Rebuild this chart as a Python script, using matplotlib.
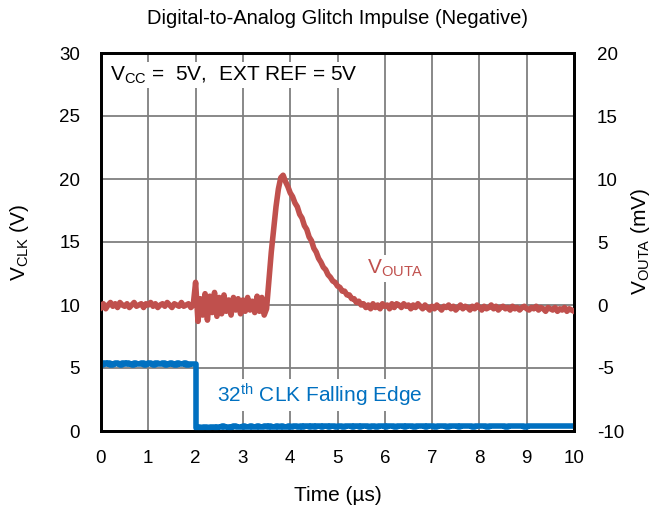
import numpy as np
import matplotlib
matplotlib.use("Agg")
import matplotlib.pyplot as plt

plt.rcParams['font.family'] = ['Liberation Sans', 'DejaVu Sans']
plt.rcParams['mathtext.fontset'] = 'custom'
plt.rcParams['mathtext.rm'] = 'Liberation Sans'
plt.rcParams['mathtext.it'] = 'Liberation Sans:italic'
plt.rcParams['axes.unicode_minus'] = False

title = "Digital-to-Analog Glitch Impulse (Negative)"
x_ticks = [0, 1, 2, 3, 4, 5, 6, 7, 8, 9, 10]
left_ticks = [0, 5, 10, 15, 20, 25, 30]
right_ticks = [-10, -5, 0, 5, 10, 15, 20]

# sample times (us), 0.05 us spacing
time_us = [round(i * 0.05, 2) for i in range(201)]

# V_OUTA in mV
vouta_mv = [
    # 0.00 - 1.95
    -0.2, 0.1, -0.3, 0.0, 0.2, -0.1, 0.1, -0.2, 0.2, 0.0,
    -0.1, 0.1, -0.2, 0.0, 0.2, -0.1, 0.0, 0.1, -0.2, 0.1,
    0.0, 0.2, -0.1, 0.1, -0.2, 0.0, 0.1, -0.1, 0.2, 0.0,
    -0.2, 0.1, 0.0, -0.1, 0.2, -0.1, 0.0, 0.1, -0.2, 0.0,
    # 2.00 - 3.50
    1.8, -1.3, 0.5, -0.8, 0.9, -1.2, 0.7, -0.6, 1.0, -0.9,
    0.6, -0.7, 0.8, -0.5, 0.4, -0.8, 0.6, -0.4, 0.5, -0.7,
    0.4, -0.5, 0.6, -0.4, 0.3, -0.6, 0.7, -0.5, 0.6, -0.8,
    -0.3,
    # 3.55 - 5.65
    2.0, 4.2, 6.0, 7.8, 9.2, 10.1, 10.3, 9.8, 9.4, 8.9,
    8.6, 8.1, 7.8, 7.2, 6.9, 6.3, 6.0, 5.4, 5.1, 4.5,
    4.2, 3.7, 3.4, 3.0, 2.8, 2.4, 2.2, 1.9, 1.8, 1.5,
    1.4, 1.1, 1.1, 0.8, 0.8, 0.5, 0.5, 0.2, 0.3, 0.0,
    0.1, -0.2, 0.0,
    # 5.70 - 10.00
    -0.3, 0.1, -0.2, 0.0, -0.3, 0.1, -0.1, 0.0, -0.3, 0.1,
    -0.2, 0.1, 0.0, -0.2, 0.1, -0.1, 0.0, -0.3, 0.0, -0.2,
    0.1, -0.1, -0.3, 0.0, -0.2, -0.4, -0.1, -0.3, 0.0, -0.2,
    -0.4, -0.1, -0.2, 0.0, -0.3, -0.1, -0.4, -0.2, 0.0, -0.3,
    -0.1, -0.2, -0.4, -0.1, -0.3, 0.0, -0.2, -0.4, -0.1, -0.3,
    -0.2, 0.0, -0.3, -0.1, -0.4, -0.2, -0.1, -0.3, -0.2, -0.4,
    -0.1, -0.3, -0.2, -0.4, -0.2, -0.1, -0.3, -0.4, -0.2, -0.3,
    -0.1, -0.4, -0.2, -0.3, -0.5, -0.2, -0.3, -0.4, -0.2, -0.5,
    -0.3, -0.4, -0.2, -0.5, -0.3, -0.4, -0.5,
]

# V_CLK in V
vclk_v = [
    # 0.00 - 1.95
    5.2, 5.4, 5.3, 5.4, 5.2, 5.3, 5.4, 5.3, 5.2, 5.4,
    5.3, 5.4, 5.3, 5.2, 5.4, 5.3, 5.3, 5.4, 5.2, 5.3,
    5.4, 5.3, 5.2, 5.4, 5.3, 5.3, 5.4, 5.2, 5.3, 5.4,
    5.3, 5.2, 5.4, 5.3, 5.3, 5.4, 5.2, 5.3, 5.3, 5.3,
    # 2.00 - 10.00
    0.2, 0.3, 0.2, 0.3, 0.3, 0.2, 0.3, 0.3, 0.2, 0.3,
    0.3, 0.4, 0.3, 0.3, 0.2, 0.3, 0.4, 0.3, 0.3, 0.3,
    0.4, 0.3, 0.3, 0.4, 0.3, 0.3, 0.4, 0.3, 0.3, 0.4,
    0.3, 0.4, 0.3, 0.3, 0.4, 0.3, 0.4, 0.3, 0.3, 0.4,
    0.3, 0.4, 0.4, 0.3, 0.4, 0.3, 0.4, 0.4, 0.3, 0.4,
    0.3, 0.4, 0.4, 0.3, 0.4, 0.4, 0.3, 0.4, 0.4, 0.3,
    0.4, 0.4, 0.3, 0.4, 0.4, 0.4, 0.3, 0.4, 0.4, 0.3,
    0.4, 0.4, 0.4, 0.3, 0.4, 0.4, 0.3, 0.4, 0.4, 0.4,
    0.3, 0.4, 0.4, 0.4, 0.3, 0.4, 0.4, 0.4, 0.3, 0.4,
    0.4, 0.4, 0.3, 0.4, 0.4, 0.4, 0.4, 0.3, 0.4, 0.4,
    0.4, 0.3, 0.4, 0.4, 0.4, 0.4, 0.3, 0.4, 0.4, 0.4,
    0.4, 0.3, 0.4, 0.4, 0.4, 0.4, 0.4, 0.3, 0.4, 0.4,
    0.4, 0.4, 0.4, 0.3, 0.4, 0.4, 0.4, 0.4, 0.4, 0.4,
    0.4, 0.3, 0.4, 0.4, 0.4, 0.4, 0.4, 0.4, 0.4, 0.3,
    0.4, 0.4, 0.4, 0.4, 0.4, 0.4, 0.4, 0.4, 0.4, 0.4,
    0.4, 0.4, 0.4, 0.4, 0.4, 0.4, 0.4, 0.4, 0.4, 0.4,
    0.4,
]

RED = '#C0504D'
BLUE = '#0070C0'
GRID = '#7f7f7f'
TICK_FS = 13.5
LABEL_FS = 15
TITLE_FS = 14.5
ANN_FS = 15

W, H = 664, 509
fig = plt.figure(figsize=(W / 100, H / 100), dpi=100)
ax = fig.add_axes([101 / W, 1 - 431 / H, (574 - 101) / W, (431 - 53) / H])
ax2 = ax.twinx()

ax.set_xlim(0, 10)
ax.set_ylim(0, 30)
ax2.set_ylim(-10, 20)
ax.set_xticks(x_ticks)
ax.set_yticks(left_ticks)
ax2.set_yticks(right_ticks)
ax.grid(True, color=GRID, lw=1.3, zorder=0)
ax.set_axisbelow(True)

ax.tick_params(axis='x', length=0, labelsize=TICK_FS, pad=14)
ax.tick_params(axis='y', length=0, labelsize=TICK_FS, pad=15)
ax2.tick_params(axis='y', length=0, labelsize=TICK_FS, pad=16.5)
for a in (ax, ax2):
    for s in a.spines.values():
        s.set_linewidth(2)
        s.set_color('black')

ax.plot(time_us, vclk_v, color=BLUE, lw=4, drawstyle='steps-post', zorder=3)
ax2.plot(time_us, vouta_mv, color=RED, lw=4, zorder=3)

ax.set_xlabel('Time (µs)', fontsize=LABEL_FS)
ax.set_ylabel(r'V$_{\mathrm{CLK}}$ (V)', fontsize=LABEL_FS)
ax2.set_ylabel(r'V$_{\mathrm{OUTA}}$ (mV)', fontsize=LABEL_FS)
ax.xaxis.set_label_coords(0.5, (431 - 486) / 378)
ax.yaxis.set_label_coords((31 - 101) / 473, 0.5)
ax2.yaxis.set_label_coords((629 - 101) / 473, 0.5)
fig.text(0.5 * (101 + 574) / W, 1 - 19 / H, title, fontsize=TITLE_FS,
         ha='center', va='center')

bb = dict(facecolor='white', edgecolor='none', pad=2)
ax2.text(0.19, 18.25, r'V$_{\mathrm{CC}}$ =  5V,  EXT REF = 5V', fontsize=ANN_FS,
         va='center', ha='left', bbox=bb, zorder=4)
ax2.text(5.62, 2.9, r'V$_{\mathrm{OUTA}}$', fontsize=ANN_FS, color=RED,
         va='center', ha='left', bbox=bb, zorder=4)
ax.text(2.45, 2.85, r'32$^{\mathrm{th}}$ CLK Falling Edge', fontsize=ANN_FS, color=BLUE,
        va='center', ha='left', bbox=bb, zorder=4)

fig.savefig('out.png', dpi=100)
